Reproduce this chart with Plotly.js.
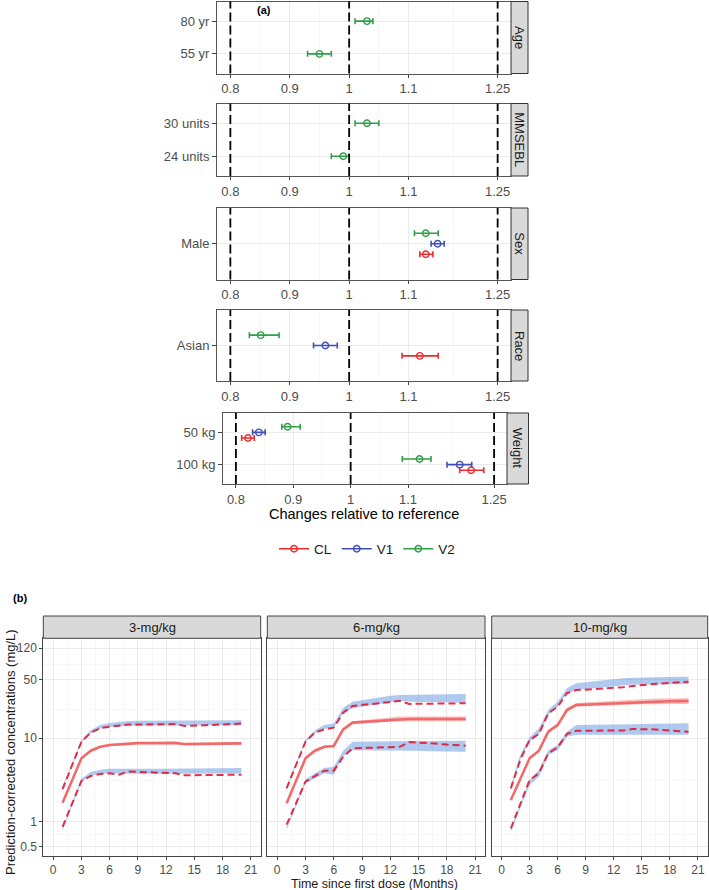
<!DOCTYPE html>
<html>
<head>
<meta charset="utf-8">
<script src="https://cdn.plot.ly/plotly-3.0.1.min.js"></script>
<style>
html,body{margin:0;padding:0;background:#fff;}
#chart{width:709px;height:890px;}
</style>
</head>
<body>
<div id="chart"></div>
<script>
// ---------------- Panel (a) data ----------------
const paramNames = ['CL', 'V1', 'V2'];
const paramColors = ['#EE2A2A', '#3F4FB8', '#2F9E47'];

const ageLevels = ['55 yr', '80 yr'];
const ageV2 = [0.95, 1.03];
const ageV2Lo = [0.93, 1.01];
const ageV2Hi = [0.97, 1.04];

const mmseLevels = ['24 units', '30 units'];
const mmseV2 = [0.99, 1.03];
const mmseV2Lo = [0.97, 1.01];
const mmseV2Hi = [1.00, 1.05];

const sexLevels = ['Male'];
const sexCL = [1.129], sexCLLo = [1.119], sexCLHi = [1.141];
const sexV1 = [1.149], sexV1Lo = [1.138], sexV1Hi = [1.160];
const sexV2 = [1.129], sexV2Lo = [1.110], sexV2Hi = [1.150];

const raceLevels = ['Asian'];
const raceCL = [1.119], raceCLLo = [1.089], raceCLHi = [1.150];
const raceV1 = [0.960], raceV1Lo = [0.940], raceV1Hi = [0.980];
const raceV2 = [0.851], raceV2Lo = [0.832], raceV2Hi = [0.882];

const wtLevels = ['100 kg', '50 kg'];
const wtCL = [1.210, 0.821], wtCLLo = [1.190, 0.810], wtCLHi = [1.232, 0.832];
const wtV1 = [1.190, 0.840], wtV1Lo = [1.168, 0.829], wtV1Hi = [1.211, 0.851];
const wtV2 = [1.120, 0.890], wtV2Lo = [1.090, 0.880], wtV2Hi = [1.140, 0.912];

const aTickVals = [0.8, 0.9, 1, 1.1, 1.25];
const aTickText = ['0.8', '0.9', '1', '1.1', '1.25'];
const aMinorVals = [0.85, 0.95, 1.05, 1.175];
const refLines = [0.8, 1, 1.25];

// ---------------- Panel (b) data ----------------
const doseLabels = ['3-mg/kg', '6-mg/kg', '10-mg/kg'];
const bXTicks = [0, 3, 6, 9, 12, 15, 18, 21];
const bXMinor = [1.5, 4.5, 7.5, 10.5, 13.5, 16.5, 19.5];
const bYTicks = [0.5, 1, 10, 50, 120];
const bYTickText = ['0.5', '1', '10', '50', '120'];
const bYMinor = [0.707, 3.16, 22.4, 77.5];

// 3 mg/kg
const t3 = [1, 3, 4, 5, 6, 7, 8, 9, 10, 11, 12, 13, 14, 15, 16, 17, 18, 19, 20];
const obs95_3 = [2.45, 9.1, 11.7, 13.2, 13.8, 14.2, 14.6, 14.6, 14.7, 14.7, 14.7, 14.8, 14.0, 14.2, 14.4, 14.6, 14.7, 14.9, 15.0];
const obs50_3 = [1.69, 5.75, 7.1, 7.9, 8.3, 8.5, 8.7, 8.75, 8.75, 8.8, 8.8, 8.8, 8.5, 8.55, 8.6, 8.6, 8.65, 8.7, 8.7];
const obs5_3 = [0.87, 3.08, 3.53, 3.73, 3.8, 3.66, 4.0, 3.95, 3.9, 3.85, 3.85, 3.8, 3.6, 3.62, 3.65, 3.65, 3.65, 3.65, 3.65];
const ci95lo_3 = [2.52, 8.9, 11.4, 13.0, 13.7, 14.0, 14.1, 14.1, 14.1, 14.2, 14.2, 14.2, 14.2, 14.2, 14.2, 14.2, 14.2, 14.3, 14.3];
const ci95hi_3 = [2.68, 9.5, 12.6, 14.4, 15.3, 15.8, 16.1, 16.2, 16.2, 16.3, 16.3, 16.3, 16.3, 16.3, 16.4, 16.4, 16.4, 16.5, 16.5];
const ci50lo_3 = [1.63, 5.55, 6.85, 7.65, 8.05, 8.25, 8.45, 8.5, 8.5, 8.5, 8.5, 8.5, 8.3, 8.3, 8.35, 8.35, 8.4, 8.4, 8.4];
const ci50hi_3 = [1.75, 5.95, 7.35, 8.15, 8.55, 8.75, 8.95, 9.0, 9.0, 9.05, 9.05, 9.05, 8.75, 8.8, 8.85, 8.85, 8.9, 8.95, 8.95];
const ci5lo_3 = [0.78, 3.0, 3.55, 3.75, 3.78, 3.75, 3.75, 3.75, 3.75, 3.75, 3.75, 3.75, 3.75, 3.75, 3.75, 3.75, 3.75, 3.78, 3.78];
const ci5hi_3 = [0.83, 3.3, 3.95, 4.2, 4.3, 4.32, 4.32, 4.32, 4.32, 4.32, 4.32, 4.32, 4.32, 4.32, 4.35, 4.35, 4.35, 4.4, 4.4];

// 6 mg/kg
const t6 = [1, 3, 4, 5, 6, 7, 8, 9, 10, 11, 12, 13, 14, 15, 16, 17, 18, 19, 20];
const obs95_6 = [2.51, 9.1, 11.7, 12.8, 13.4, 20.3, 24.4, 25.0, 25.8, 26.5, 27.2, 28.2, 25.8, 25.9, 26.0, 26.0, 26.1, 26.2, 26.3];
const obs50_6 = [1.66, 5.75, 7.1, 7.9, 8.1, 12.8, 15.4, 15.7, 16.0, 16.3, 16.6, 17.0, 17.0, 17.0, 17.0, 17.0, 17.0, 17.0, 17.0];
const obs5_6 = [0.92, 3.02, 3.53, 4.09, 4.09, 6.0, 7.6, 7.65, 7.7, 7.75, 7.8, 7.9, 9.0, 8.9, 8.8, 8.6, 8.4, 8.3, 8.15];
const ci95lo_6 = [2.5, 8.9, 11.5, 13.0, 13.5, 20.0, 22.9, 24.0, 25.0, 26.0, 27.0, 28.0, 27.5, 27.3, 27.2, 27.0, 26.9, 26.8, 26.7];
const ci95hi_6 = [2.7, 9.5, 12.5, 14.4, 15.0, 23.3, 27.5, 28.7, 30.0, 31.2, 32.4, 33.1, 33.3, 33.5, 33.6, 33.7, 33.8, 33.9, 34.0];
const ci50lo_6 = [1.6, 5.5, 6.8, 7.6, 7.8, 12.3, 14.8, 15.1, 15.4, 15.6, 15.8, 16.0, 16.0, 16.0, 16.0, 16.0, 16.0, 16.0, 16.0];
const ci50hi_6 = [1.72, 6.0, 7.4, 8.2, 8.4, 13.3, 16.0, 16.4, 16.8, 17.2, 17.6, 18.2, 18.2, 18.2, 18.3, 18.3, 18.3, 18.3, 18.3];
const ci5lo_6 = [0.8, 2.9, 3.3, 3.8, 3.65, 6.1, 7.2, 7.2, 7.2, 7.2, 7.2, 7.2, 7.1, 7.1, 7.0, 7.0, 7.0, 6.9, 6.9];
const ci5hi_6 = [0.86, 3.2, 3.8, 4.4, 4.55, 7.1, 9.1, 9.1, 9.15, 9.15, 9.2, 9.2, 9.25, 9.25, 9.3, 9.3, 9.3, 9.35, 9.35];

// 10 mg/kg
const t10 = [1, 2, 3, 4, 5, 6, 7, 8, 9, 10, 11, 12, 13, 14, 15, 16, 17, 18, 19, 20];
const obs95_10 = [2.51, 5.5, 9.55, 11.3, 19.9, 23.9, 34.7, 37.9, 38.3, 38.8, 39.3, 39.8, 40.9, 42.3, 43.6, 44.4, 45.2, 46.0, 46.8, 47.7];
const obs50_10 = [1.82, 3.3, 5.75, 7.1, 12.0, 14.4, 21.8, 25.1, 25.4, 25.7, 26.0, 26.3, 26.7, 27.0, 27.3, 27.5, 27.7, 27.8, 27.9, 28.0];
const obs5_10 = [0.83, 1.66, 3.16, 3.8, 6.6, 7.8, 11.3, 12.3, 12.3, 12.3, 12.3, 12.3, 12.4, 12.9, 12.9, 12.8, 12.6, 12.4, 12.2, 12.0];
const ci95lo_10 = [2.4, 5.5, 9.1, 11.0, 19.0, 23.9, 34.7, 37.9, 39.0, 40.0, 41.0, 42.0, 43.6, 44.0, 44.2, 44.4, 44.5, 44.6, 44.7, 44.8];
const ci95hi_10 = [2.75, 6.3, 10.3, 13.2, 21.8, 27.5, 39.8, 45.6, 47.0, 48.5, 50.0, 51.3, 52.4, 53.0, 53.5, 53.9, 54.2, 54.4, 54.6, 54.8];
const ci50lo_10 = [1.75, 3.15, 5.5, 6.8, 11.5, 13.8, 20.8, 23.8, 24.1, 24.4, 24.7, 25.0, 25.3, 25.4, 25.5, 25.6, 25.7, 25.7, 25.8, 25.8];
const ci50hi_10 = [1.9, 3.45, 6.0, 7.4, 12.6, 15.1, 23.0, 26.4, 26.8, 27.3, 27.8, 28.3, 28.8, 29.2, 29.5, 29.7, 29.9, 30.0, 30.1, 30.2];
const ci5lo_10 = [0.76, 1.45, 2.75, 3.46, 6.3, 7.2, 10.4, 11.0, 11.0, 11.0, 11.0, 11.0, 11.0, 11.0, 11.0, 11.0, 11.0, 11.0, 11.0, 11.0];
const ci5hi_10 = [0.83, 1.66, 3.16, 4.2, 7.2, 8.3, 12.0, 14.4, 14.4, 14.4, 14.5, 14.5, 14.6, 14.7, 14.8, 14.8, 14.9, 15.0, 15.0, 15.1];

// ---------------- Layout helpers ----------------
const W = 709, H = 890;
const FONT = 'Liberation Sans, Arial, Helvetica, sans-serif';
function xd(a, b) { return [a / W, b / W]; }
function yd(top, bot) { return [1 - bot / H, 1 - top / H]; }
function px(x) { return x / W; }
function py(y) { return 1 - y / H; }

const layout = {
  width: W, height: H,
  margin: {l: 0, r: 0, t: 0, b: 0},
  paper_bgcolor: '#fff', plot_bgcolor: '#fff',
  font: {family: FONT, color: '#1A1A1A'},
  showlegend: true,
  legend: {
    orientation: 'h', traceorder: 'normal', x: px(367), xanchor: 'center', y: py(549), yanchor: 'middle',
    font: {size: 13.5, color: '#1A1A1A', family: FONT}, bgcolor: 'rgba(0,0,0,0)',
    itemwidth: 30, tracegroupgap: 0
  },
  shapes: [], annotations: []
};
const traces = [];

// panel (a) geometry
const aPanels = [
  {strip: 'Age', top: 1.5, bot: 73.5, left: 217, right: 511, stripR: 528, levels: ageLevels,
   series: [[2, ageV2, ageV2Lo, ageV2Hi]], dodge: false},
  {strip: 'MMSEBL', top: 103.5, bot: 176, left: 217, right: 511, stripR: 528, levels: mmseLevels,
   series: [[2, mmseV2, mmseV2Lo, mmseV2Hi]], dodge: false},
  {strip: 'Sex', top: 208, bot: 279.5, left: 217, right: 511, stripR: 528, levels: sexLevels,
   series: [[0, sexCL, sexCLLo, sexCLHi], [1, sexV1, sexV1Lo, sexV1Hi], [2, sexV2, sexV2Lo, sexV2Hi]], dodge: true},
  {strip: 'Race', top: 310, bot: 381, left: 217, right: 511, stripR: 528, levels: raceLevels,
   series: [[0, raceCL, raceCLLo, raceCLHi], [1, raceV1, raceV1Lo, raceV1Hi], [2, raceV2, raceV2Lo, raceV2Hi]], dodge: true},
  {strip: 'Weight', top: 413, bot: 484, left: 223, right: 507, stripR: 528.5, levels: wtLevels,
   series: [[0, wtCL, wtCLLo, wtCLHi], [1, wtV1, wtV1Lo, wtV1Hi], [2, wtV2, wtV2Lo, wtV2Hi]], dodge: true}
];
const dodgeOffsets = [-0.175, 0, 0.175];

aPanels.forEach((p, i) => {
  const s = i === 0 ? '' : String(i + 1);
  const n = p.levels.length;
  const yVals = p.levels.map((_, k) => k + 1);
  layout['xaxis' + s] = {
    domain: xd(p.left, p.right), range: [0.7775, 1.2725], anchor: 'y' + s,
    tickmode: 'array', tickvals: aTickVals, ticktext: aTickText,
    minor: {tickmode: 'array', tickvals: aMinorVals, showgrid: true, gridcolor: '#F3F3F3', gridwidth: 0.7, ticks: ''},
    showgrid: true, gridcolor: '#EBEBEB', gridwidth: 1, zeroline: false,
    showline: true, mirror: true, linecolor: '#555', linewidth: 1,
    ticks: 'outside', ticklen: 3, tickcolor: '#444', tickwidth: 1,
    tickfont: {size: 13, color: '#4D4D4D', family: FONT}
  };
  layout['yaxis' + s] = {
    domain: yd(p.top, p.bot), range: [0.4, n + 0.6], anchor: 'x' + s,
    tickmode: 'array', tickvals: yVals, ticktext: p.levels,
    showgrid: true, gridcolor: '#EBEBEB', gridwidth: 1, zeroline: false,
    showline: true, mirror: true, linecolor: '#555', linewidth: 1,
    ticks: 'outside', ticklen: 4, tickcolor: '#444', tickwidth: 1,
    tickfont: {size: 13, color: '#4D4D4D', family: FONT}
  };
  refLines.forEach(v => {
    layout.shapes.push({type: 'line', xref: 'x' + s, yref: 'y' + s + ' domain', x0: v, x1: v, y0: 0, y1: 1,
      layer: 'above', line: {color: '#000', width: 1.8, dash: '9px,4px'}});
  });
  // strip
  layout.shapes.push({type: 'rect', xref: 'paper', yref: 'paper',
    x0: px(p.right), x1: px(p.stripR), y0: py(p.bot), y1: py(p.top),
    fillcolor: '#D9D9D9', line: {color: '#333', width: 1}});
  layout.annotations.push({xref: 'paper', yref: 'paper', x: px((p.right + p.stripR) / 2), y: py((p.top + p.bot) / 2),
    text: p.strip, textangle: 90, showarrow: false, font: {size: 13, color: '#1A1A1A', family: FONT},
    xanchor: 'center', yanchor: 'middle'});
  p.series.forEach(([g, v, lo, hi]) => {
    const off = p.dodge ? dodgeOffsets[g] : 0;
    traces.push({
      type: 'scatter', mode: 'markers', x: v, y: yVals.map(y => y + off),
      xaxis: 'x' + s, yaxis: 'y' + s, showlegend: false, hoverinfo: 'skip',
      marker: {symbol: 'circle-open', size: 6.5, color: paramColors[g], line: {width: 1.4, color: paramColors[g]}},
      error_x: {type: 'data', symmetric: false, array: hi.map((h, k) => h - v[k]), arrayminus: lo.map((l, k) => v[k] - l),
        color: paramColors[g], thickness: 1.6, width: 3}
    });
  });
});

// legend entries
paramNames.forEach((nm, g) => {
  traces.push({type: 'scatter', mode: 'lines+markers', x: [null], y: [null], xaxis: 'x', yaxis: 'y',
    name: nm, showlegend: true,
    line: {color: paramColors[g], width: 1.6},
    marker: {symbol: 'circle-open', size: 6.5, color: paramColors[g], line: {width: 1.4, color: paramColors[g]}}});
});

layout.annotations.push({xref: 'paper', yref: 'paper', x: px(364), y: py(514), text: 'Changes relative to reference',
  showarrow: false, font: {size: 14.5, color: '#000', family: FONT}, xanchor: 'center', yanchor: 'middle'});
layout.annotations.push({xref: 'paper', yref: 'paper', x: px(264), y: py(10), text: '<b>(a)</b>',
  showarrow: false, font: {size: 11, color: '#000', family: FONT}, xanchor: 'center', yanchor: 'middle'});

// ---------------- Panel (b) ----------------
const bPanels = [
  {left: 43.3, right: 260.7, t: t3, o5: obs5_3, o50: obs50_3, o95: obs95_3,
   c5: [ci5lo_3, ci5hi_3], c50: [ci50lo_3, ci50hi_3], c95: [ci95lo_3, ci95hi_3]},
  {left: 267.3, right: 485, t: t6, o5: obs5_6, o50: obs50_6, o95: obs95_6,
   c5: [ci5lo_6, ci5hi_6], c50: [ci50lo_6, ci50hi_6], c95: [ci95lo_6, ci95hi_6]},
  {left: 491.7, right: 707.7, t: t10, o5: obs5_10, o50: obs50_10, o95: obs95_10,
   c5: [ci5lo_10, ci5hi_10], c50: [ci50lo_10, ci50hi_10], c95: [ci95lo_10, ci95hi_10]}
];
const bTop = 638.3, bBot = 856, stripTop = 616;
const blueFill = 'rgba(80,135,220,0.45)';
const redFill = 'rgba(240,70,70,0.35)';

bPanels.forEach((p, i) => {
  const s = String(i + 6);
  layout['xaxis' + s] = {
    domain: xd(p.left, p.right), range: [-1.05, 22.05], anchor: 'y' + s,
    tickmode: 'array', tickvals: bXTicks, ticktext: bXTicks.map(String),
    minor: {tickmode: 'array', tickvals: bXMinor, showgrid: true, gridcolor: '#F3F3F3', gridwidth: 0.7, ticks: ''},
    showgrid: true, gridcolor: '#EBEBEB', gridwidth: 1, zeroline: false,
    showline: true, mirror: true, linecolor: '#444', linewidth: 1,
    ticks: 'outside', ticklen: 3, tickcolor: '#444',
    tickfont: {size: 12, color: '#4D4D4D', family: FONT}
  };
  layout['yaxis' + s] = {
    type: 'log', domain: yd(bTop, bBot), range: [Math.log10(0.388), Math.log10(158)], anchor: 'x' + s,
    tickmode: 'array', tickvals: bYTicks, ticktext: bYTickText, showticklabels: i === 0,
    minor: {tickmode: 'array', tickvals: bYMinor, showgrid: true, gridcolor: '#F3F3F3', gridwidth: 0.7, ticks: ''},
    showgrid: true, gridcolor: '#EBEBEB', gridwidth: 1, zeroline: false,
    showline: true, mirror: true, linecolor: '#444', linewidth: 1,
    ticks: i === 0 ? 'outside' : '', ticklen: 3, tickcolor: '#444',
    tickfont: {size: 12, color: '#4D4D4D', family: FONT}
  };
  layout.shapes.push({type: 'rect', xref: 'paper', yref: 'paper',
    x0: px(p.left), x1: px(p.right), y0: py(bTop), y1: py(stripTop),
    fillcolor: '#D9D9D9', line: {color: '#444', width: 1}});
  layout.annotations.push({xref: 'paper', yref: 'paper', x: px((p.left + p.right) / 2), y: py((bTop + stripTop) / 2),
    text: doseLabels[i], showarrow: false, font: {size: 13, color: '#1A1A1A', family: FONT},
    xanchor: 'center', yanchor: 'middle'});

  const base = {xaxis: 'x' + s, yaxis: 'y' + s, showlegend: false, hoverinfo: 'skip', type: 'scatter'};
  function band(lo, hi, col) {
    traces.push(Object.assign({}, base, {x: p.t, y: lo, mode: 'lines', line: {width: 0, color: col}}));
    traces.push(Object.assign({}, base, {x: p.t, y: hi, mode: 'lines', line: {width: 0, color: col}, fill: 'tonexty', fillcolor: col}));
  }
  band(p.c5[0], p.c5[1], blueFill);
  band(p.c95[0], p.c95[1], blueFill);
  band(p.c50[0], p.c50[1], redFill);
  traces.push(Object.assign({}, base, {x: p.t, y: p.o50, mode: 'lines', line: {color: 'rgba(240,95,95,0.9)', width: 2.6}}));
  traces.push(Object.assign({}, base, {x: p.t, y: p.o5, mode: 'lines', line: {color: 'rgba(232,10,40,0.85)', width: 2, dash: '7px,4px'}}));
  traces.push(Object.assign({}, base, {x: p.t, y: p.o95, mode: 'lines', line: {color: 'rgba(232,10,40,0.85)', width: 2, dash: '7px,4px'}}));
});

layout.annotations.push({xref: 'paper', yref: 'paper', x: px(375), y: py(884), text: 'Time since first dose (Months)',
  showarrow: false, font: {size: 12.5, color: '#1A1A1A', family: FONT}, xanchor: 'center', yanchor: 'middle'});
layout.annotations.push({xref: 'paper', yref: 'paper', x: px(10), y: py(752), text: 'Prediction-corrected concentrations (mg/L)',
  textangle: -90, showarrow: false, font: {size: 13, color: '#1A1A1A', family: FONT}, xanchor: 'center', yanchor: 'middle'});
layout.annotations.push({xref: 'paper', yref: 'paper', x: px(20), y: py(598), text: '<b>(b)</b>',
  showarrow: false, font: {size: 11, color: '#000', family: FONT}, xanchor: 'center', yanchor: 'middle'});

Plotly.newPlot('chart', traces, layout, {displayModeBar: false, staticPlot: true});
</script>
</body>
</html>
